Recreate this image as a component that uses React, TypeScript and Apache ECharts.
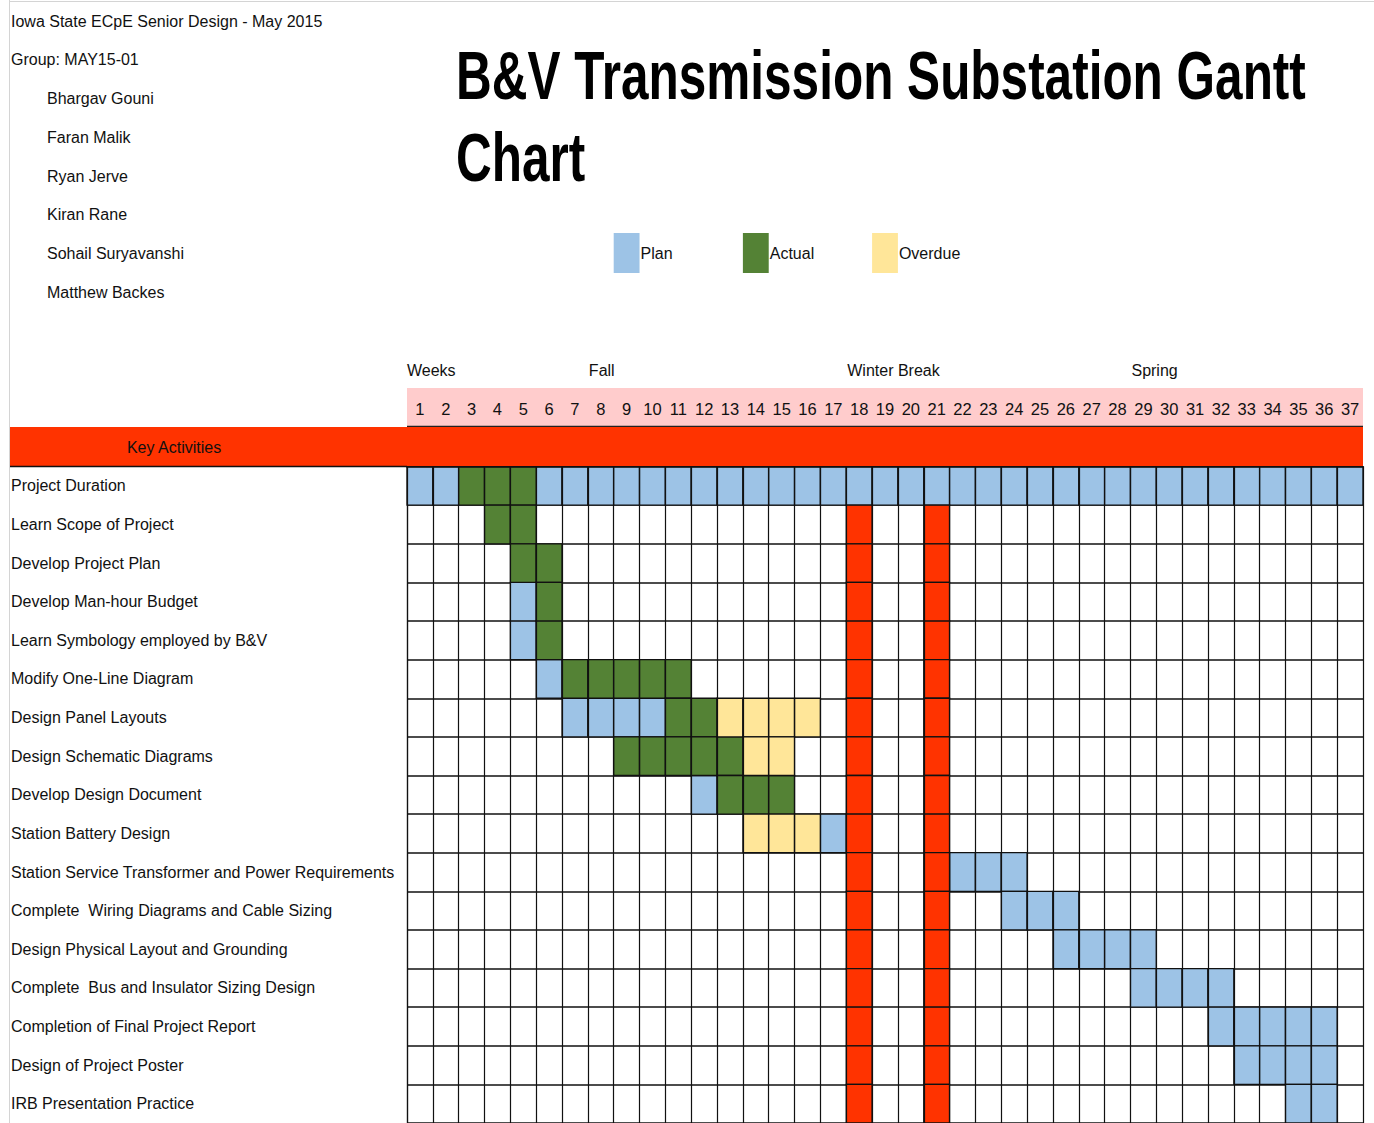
import React, { useEffect, useRef } from "react";
import * as echarts from "echarts";

const weekLabels = [
  "1", "2", "3", "4", "5", "6", "7", "8", "9", "10", "11", "12", "13",
  "14", "15", "16", "17", "18", "19", "20", "21", "22", "23", "24", "25",
  "26", "27", "28", "29", "30", "31", "32", "33", "34", "35", "36", "37",
];

const activities = [
  "Project Duration",
  "Learn Scope of Project",
  "Develop Project Plan",
  "Develop Man-hour Budget",
  "Learn Symbology employed by B&V",
  "Modify One-Line Diagram",
  "Design Panel Layouts",
  "Design Schematic Diagrams",
  "Develop Design Document",
  "Station Battery Design",
  "Station Service Transformer and Power Requirements",
  "Complete  Wiring Diagrams and Cable Sizing",
  "Design Physical Layout and Grounding",
  "Complete  Bus and Insulator Sizing Design",
  "Completion of Final Project Report",
  "Design of Project Poster",
  "IRB Presentation Practice",
];

// [activity index, first week, last week]
const planSpans: [number, number, number][] = [
  [0, 1, 2], [0, 6, 37], [3, 5, 5], [4, 5, 5], [5, 6, 6], [6, 7, 10],
  [8, 12, 12], [9, 17, 17], [10, 22, 24], [11, 24, 26], [12, 26, 29],
  [13, 29, 32], [14, 32, 36], [15, 33, 36], [16, 35, 36],
];
const actualSpans: [number, number, number][] = [
  [0, 3, 5], [1, 4, 5], [2, 5, 6], [3, 6, 6], [4, 6, 6], [5, 7, 11],
  [6, 11, 12], [7, 9, 13], [8, 13, 15],
];
const overdueSpans: [number, number, number][] = [
  [6, 13, 16], [7, 14, 15], [9, 14, 16],
];
const breakWeeks = [18, 21];
const breakRowRange = [1, 16];

const headerLines = ["Iowa State ECpE Senior Design - May 2015", "Group: MAY15-01"];
const teamMembers = [
  "Bhargav Gouni", "Faran Malik", "Ryan Jerve", "Kiran Rane",
  "Sohail Suryavanshi", "Matthew Backes",
];
const titleLines = ["B&V Transmission Substation Gantt", "Chart"];
const legendNames = ["Plan", "Actual", "Overdue"];
const legendWeeks = [9, 14, 19];
const seasonLabels: [string, number][] = [["Fall", 8], ["Winter Break", 18], ["Spring", 29]];

const COLORS = {
  Plan: "#9DC3E6",
  Actual: "#548235",
  Overdue: "#FFE699",
  Break: "#FF3300",
  Pink: "#FFCCCC",
};

const FONT = "'Liberation Sans', Arial, sans-serif";
const FS = 16;
const GRID_LEFT = 407;
const GRID_RIGHT = 1363;
const GRID_TOP = 466.6;
const ROW_H = 38.75;
const COL_W = (GRID_RIGHT - GRID_LEFT) / weekLabels.length;

function spansToCells(spans: [number, number, number][]) {
  const cells: number[][] = [];
  spans.forEach(([row, a, b]) => {
    for (let w = a; w <= b; w++) cells.push([w - 1, row]);
  });
  return cells;
}

function breakCells() {
  const cells: number[][] = [];
  for (let r = breakRowRange[0]; r <= breakRowRange[1]; r++) {
    breakWeeks.forEach((w) => cells.push([w - 1, r]));
  }
  return cells;
}

function cellSeries(name: string, color: string, data: number[][]) {
  return {
    name,
    type: "custom",
    itemStyle: { color },
    encode: { x: 0, y: 1 },
    data,
    renderItem: (params: any, api: any) => {
      const c = api.coord([api.value(0), api.value(1)]);
      const s = api.size([1, 1]);
      return {
        type: "rect",
        shape: { x: c[0] - s[0] / 2, y: c[1] - s[1] / 2, width: s[0], height: s[1] },
        style: { fill: color, stroke: "#111", lineWidth: 1.3 },
      };
    },
  };
}

export default function App() {
  const ref = useRef<HTMLDivElement>(null);

  useEffect(() => {
    if (!ref.current) return;
    const chart = echarts.init(ref.current, null, { renderer: "svg" });

    const textStyleBase = { fontFamily: FONT, fontSize: FS, fill: "#111" };
    const graphics: any[] = [
      // sheet borders
      { type: "line", shape: { x1: 9.5, y1: 0, x2: 9.5, y2: 1123 }, style: { stroke: "#d4d4d4", lineWidth: 1 } },
      { type: "line", shape: { x1: 9, y1: 1.5, x2: 1374, y2: 1.5 }, style: { stroke: "#d4d4d4", lineWidth: 1 } },
      // pink week band
      { type: "rect", z: 0, shape: { x: GRID_LEFT, y: 388, width: GRID_RIGHT - GRID_LEFT, height: 39 }, style: { fill: COLORS.Pink } },
      { type: "line", shape: { x1: GRID_LEFT, y1: 426.5, x2: GRID_RIGHT, y2: 426.5 }, style: { stroke: "#222", lineWidth: 1.5 } },
      // red key activities bar
      { type: "rect", z: 0, shape: { x: 10, y: 427, width: GRID_RIGHT - 10, height: GRID_TOP - 427 }, style: { fill: COLORS.Break } },
      { type: "line", shape: { x1: 10, y1: GRID_TOP, x2: GRID_LEFT, y2: GRID_TOP }, style: { stroke: "#111", lineWidth: 1.5 } },
      { type: "text", x: 174, y: 447, style: { ...textStyleBase, text: "Key Activities", align: "center", verticalAlign: "middle" } },
      { type: "text", x: GRID_LEFT, y: 370, style: { ...textStyleBase, text: "Weeks", verticalAlign: "middle" } },
    ];
    seasonLabels.forEach(([t, w]) => {
      graphics.push({
        type: "text",
        x: GRID_LEFT + (w - 1) * COL_W + 1,
        y: 370,
        style: { ...textStyleBase, text: t, verticalAlign: "middle" },
      });
    });
    headerLines.forEach((t, i) => {
      graphics.push({ type: "text", x: 11, y: 21 + i * ROW_H, style: { ...textStyleBase, text: t, verticalAlign: "middle" } });
    });
    teamMembers.forEach((t, i) => {
      graphics.push({ type: "text", x: 47, y: 21 + (i + 2) * ROW_H, style: { ...textStyleBase, text: t, verticalAlign: "middle" } });
    });
    titleLines.forEach((t, i) => {
      graphics.push({
        type: "text",
        x: 456,
        y: 76 + i * 82,
        scaleX: 0.728,
        style: {
          text: t,
          fontFamily: "'Liberation Sans', Arial, sans-serif",
          fontWeight: "bold",
          fontSize: 68,
          fill: "#000",
          verticalAlign: "middle",
        },
      });
    });

    const option: any = {
      animation: false,
      backgroundColor: "#fff",
      graphic: { elements: graphics },
      legend: legendNames.map((name, i) => ({
        data: [name],
        left: GRID_LEFT + (legendWeeks[i] - 1) * COL_W,
        top: 233,
        padding: 0,
        itemGap: 0,
        itemWidth: COL_W,
        itemHeight: 40,
        icon: "rect",
        selectedMode: false,
        textStyle: { fontFamily: FONT, fontSize: FS, color: "#111", padding: [0, 0, 0, -4] },
      })),
      grid: {
        left: GRID_LEFT,
        top: GRID_TOP,
        width: GRID_RIGHT - GRID_LEFT,
        height: ROW_H * activities.length,
        containLabel: false,
      },
      xAxis: {
        type: "category",
        position: "top",
        data: weekLabels,
        z: 10,
        axisLine: { show: true, lineStyle: { color: "#111", width: 1.5 } },
        axisTick: { show: false },
        axisLabel: {
          interval: 0,
          margin: GRID_TOP - 409,
          verticalAlign: "middle",
          fontFamily: FONT,
          fontSize: 16.5,
          color: "#111",
        },
        splitLine: { show: true, interval: 0, lineStyle: { color: "#111", width: 1.2 } },
      },
      yAxis: {
        type: "category",
        inverse: true,
        data: activities,
        axisLine: { show: true, lineStyle: { color: "#111", width: 1.2 } },
        axisTick: { show: false },
        axisLabel: {
          interval: 0,
          align: "left",
          margin: GRID_LEFT - 11,
          fontFamily: FONT,
          fontSize: FS,
          color: "#111",
        },
        splitLine: { show: true, interval: 0, lineStyle: { color: "#111", width: 1.6 } },
      },
      series: [
        cellSeries("Plan", COLORS.Plan, spansToCells(planSpans)),
        cellSeries("Actual", COLORS.Actual, spansToCells(actualSpans)),
        cellSeries("Overdue", COLORS.Overdue, spansToCells(overdueSpans)),
        cellSeries("Winter Break", COLORS.Break, breakCells()),
      ],
    };
    chart.setOption(option);
    return () => chart.dispose();
  }, []);

  return (
    <div
      ref={ref}
      style={{ position: "fixed", left: 0, top: 0, width: 1374, height: 1123, background: "#fff" }}
    />
  );
}
